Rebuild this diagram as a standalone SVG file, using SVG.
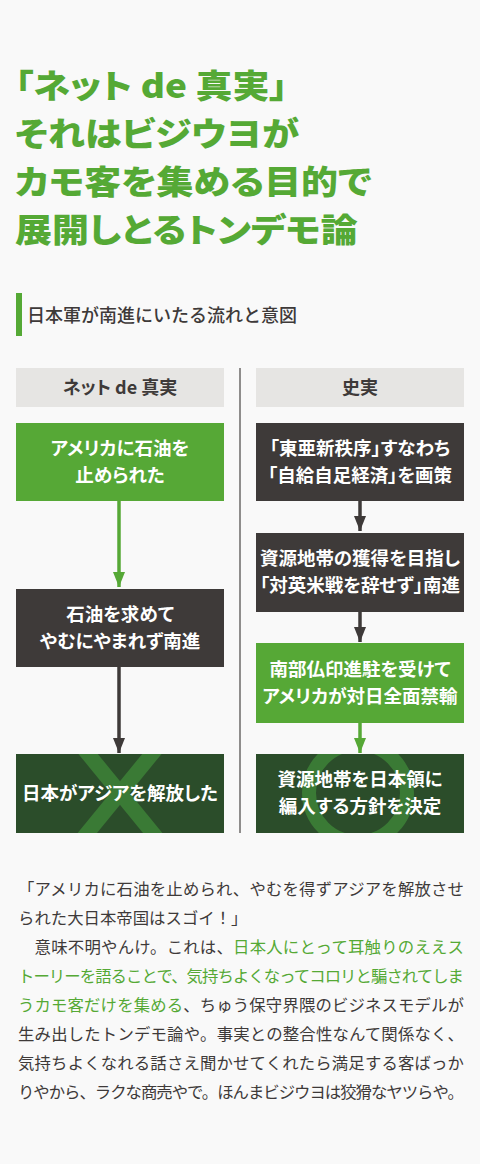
<svg xmlns="http://www.w3.org/2000/svg" width="480" height="1164" viewBox="0 0 480 1164">
<style>
.title{font-family:"Noto Sans CJK JP","Noto Sans",sans-serif;font-weight:900;font-size:33px;fill:#55a935;font-feature-settings:"palt"}
.head{font-family:"Noto Sans CJK JP","Noto Sans",sans-serif;font-weight:500;font-size:18px;fill:#3e3a39}
.col{font-family:"Noto Sans CJK JP","Noto Sans",sans-serif;font-weight:700;font-size:18px;fill:#3e3a39;text-anchor:middle;font-feature-settings:"palt"}
.bt{font-family:"Noto Sans CJK JP","Noto Sans",sans-serif;font-weight:700;font-size:18.5px;fill:#ffffff;text-anchor:middle;font-feature-settings:"palt"}
.body{font-family:"Noto Sans CJK JP","Noto Sans",sans-serif;font-weight:400;font-size:16.4px;fill:#3e3a39}
.hl{fill:#55a935}
.green{fill:#56a836}
.dark{fill:#3e3a39}
.dg{fill:#2b4d2a}
.gray{fill:#e6e5e3}
.mark{stroke:#3a7a35;fill:none}
.ln{stroke-width:3.5;fill:none}
</style>
<defs>
<marker id="ahG" markerWidth="15" markerHeight="12" refX="15" refY="6" viewBox="0 0 15 12" markerUnits="userSpaceOnUse" orient="auto"><path d="M0,0 L15,6 L0,12 Z" fill="#56a836"/></marker>
<marker id="ahD" markerWidth="15" markerHeight="12" refX="15" refY="6" viewBox="0 0 15 12" markerUnits="userSpaceOnUse" orient="auto"><path d="M0,0 L15,6 L0,12 Z" fill="#3e3a39"/></marker>
<clipPath id="clipL"><rect x="16" y="754" width="208" height="79"/></clipPath>
<clipPath id="clipR"><rect x="256" y="754" width="208" height="79"/></clipPath>
</defs>
<rect width="480" height="1164" fill="#f9f9f9"/>

<g id="title" transform="scale(1.12 1)">
<text class="title" x="13.4" y="98">「ネット de 真実」</text>
<text class="title" x="13.4" y="146">それはビジウヨが</text>
<text class="title" x="13.4" y="194">カモ客を集める目的で</text>
<text class="title" x="13.4" y="242">展開しとるトンデモ論</text>
</g>

<g id="heading">
<rect x="16" y="293" width="6" height="43" fill="#55a935"/>
<text class="head" x="27" y="322">日本軍が南進にいたる流れと意図</text>
</g>

<g id="divider"><line x1="240" y1="368" x2="240" y2="833" stroke="#6b6867" stroke-width="1.5"/></g>

<g id="col-left">
<rect class="gray" x="16" y="368" width="208" height="39"/>
<text class="col" x="120" y="394">ネット de 真実</text>
</g>
<g id="col-right">
<rect class="gray" x="256" y="368" width="208" height="39"/>
<text class="col" x="360" y="394">史実</text>
</g>

<g id="connectors">
<line class="ln" x1="119" y1="501" x2="119" y2="587" stroke="#56a836" marker-end="url(#ahG)"/>
<line class="ln" x1="119" y1="667" x2="119" y2="753" stroke="#3e3a39" marker-end="url(#ahD)"/>
<line class="ln" x1="360" y1="501" x2="360" y2="531" stroke="#3e3a39" marker-end="url(#ahD)"/>
<line class="ln" x1="360" y1="612" x2="360" y2="642" stroke="#3e3a39" marker-end="url(#ahD)"/>
<line class="ln" x1="360" y1="723" x2="360" y2="753" stroke="#56a836" marker-end="url(#ahG)"/>
</g>

<g id="node-l1">
<rect class="green" x="16" y="423" width="208" height="78"/>
<text class="bt" x="120" y="455">アメリカに石油を</text>
<text class="bt" x="120" y="482">止められた</text>
</g>
<g id="node-l2">
<rect class="dark" x="16" y="589" width="208" height="78"/>
<text class="bt" x="120" y="621">石油を求めて</text>
<text class="bt" x="120" y="648">やむにやまれず南進</text>
</g>
<g id="node-l3">
<rect class="dg" x="16" y="754" width="208" height="79"/>
<g clip-path="url(#clipL)">
<line class="mark" x1="44" y1="700" x2="196" y2="886" stroke-width="15"/>
<line class="mark" x1="196" y1="700" x2="44" y2="886" stroke-width="15"/>
</g>
<text class="bt" x="120" y="800">日本がアジアを解放した</text>
</g>

<g id="node-r1">
<rect class="dark" x="256" y="423" width="208" height="78"/>
<text class="bt" x="360" y="455">「東亜新秩序」すなわち</text>
<text class="bt" x="360" y="482">「自給自足経済」を画策</text>
</g>
<g id="node-r2">
<rect class="dark" x="256" y="533" width="208" height="79"/>
<text class="bt" x="360" y="565">資源地帯の獲得を目指し</text>
<text class="bt" x="360" y="592">「対英米戦を辞せず」南進</text>
</g>
<g id="node-r3">
<rect class="green" x="256" y="643" width="208" height="80"/>
<text class="bt" x="360" y="676">南部仏印進駐を受けて</text>
<text class="bt" x="360" y="703">アメリカが対日全面禁輸</text>
</g>
<g id="node-r4">
<rect class="dg" x="256" y="754" width="208" height="79"/>
<g clip-path="url(#clipR)">
<circle class="mark" cx="358" cy="793" r="49" stroke-width="14"/>
</g>
<text class="bt" x="360" y="786">資源地帯を日本領に</text>
<text class="bt" x="360" y="813">編入する方針を決定</text>
</g>

<g id="body">
<text class="body" x="18" y="895" textLength="446" lengthAdjust="spacing">「アメリカに石油を止められ、やむを得ずアジアを解放させ</text>
<text class="body" x="18" y="924">られた大日本帝国はスゴイ！」</text>
<text class="body" x="18" y="953" textLength="446" lengthAdjust="spacing">　意味不明やんけ。これは、<tspan class="hl">日本人にとって耳触りのええス</tspan></text>
<text class="body" x="18" y="982" textLength="446" lengthAdjust="spacing"><tspan class="hl">トーリーを語ることで、気持ちよくなってコロリと騙されてしま</tspan></text>
<text class="body" x="18" y="1011" textLength="446" lengthAdjust="spacing"><tspan class="hl">うカモ客だけを集める</tspan>、ちゅう保守界隈のビジネスモデルが</text>
<text class="body" x="18" y="1040" textLength="446" lengthAdjust="spacing">生み出したトンデモ論や。事実との整合性なんて関係なく、</text>
<text class="body" x="18" y="1069" textLength="446" lengthAdjust="spacing">気持ちよくなれる話さえ聞かせてくれたら満足する客ばっか</text>
<text class="body" x="18" y="1098" textLength="446" lengthAdjust="spacing">りやから、ラクな商売やで。ほんまビジウヨは狡猾なヤツらや。</text>
</g>
</svg>
